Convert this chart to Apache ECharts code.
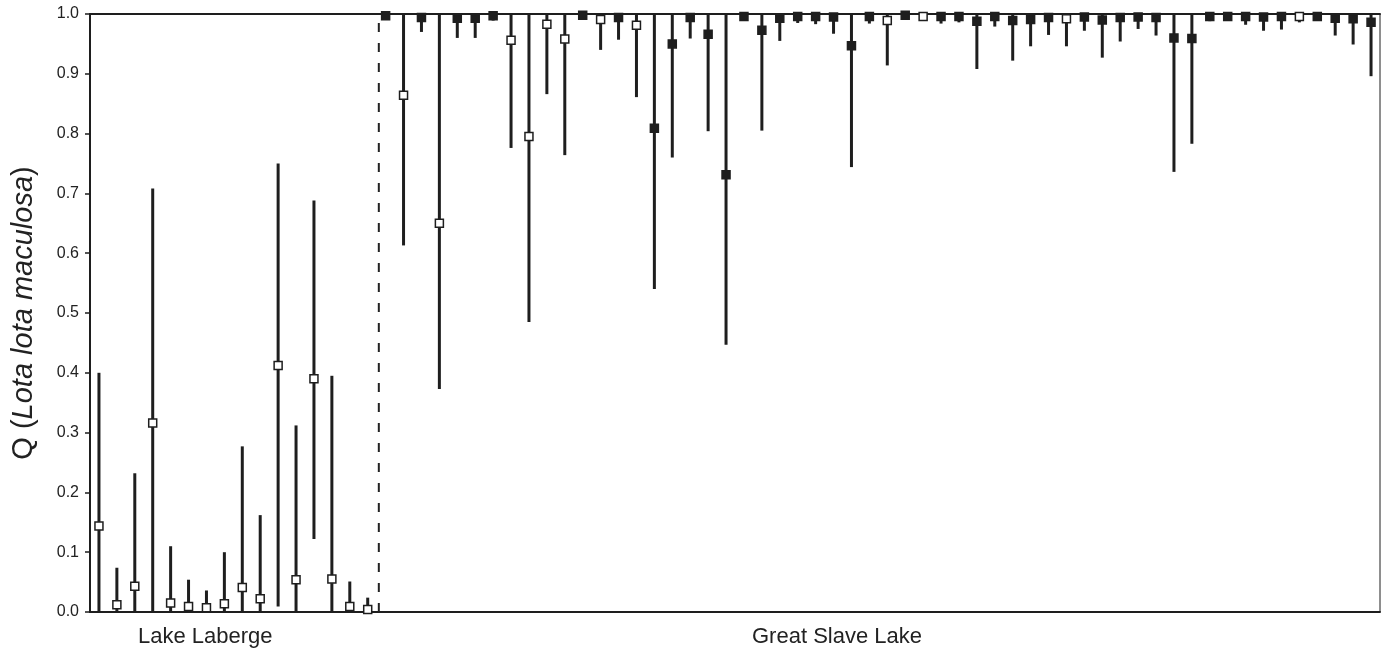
<!DOCTYPE html>
<html>
<head>
<meta charset="utf-8">
<title>Q (Lota lota maculosa)</title>
<script src="https://cdn.jsdelivr.net/npm/echarts@6/dist/echarts.min.js"></script>
<style>
  html, body { margin: 0; padding: 0; background: #fff; }
  #chart { width: 1385px; height: 654px; }
</style>
</head>
<body>
<div id="chart"></div>
<script>
// group labels under the x axis
const groups = ['Lake Laberge', 'Great Slave Lake']

// Lake Laberge individuals: mean Q and interval ends (all drawn open)
const labergeMean = [0.144, 0.012, 0.043, 0.316, 0.015, 0.009, 0.007, 0.014, 0.041, 0.022, 0.412, 0.054, 0.390, 0.055, 0.009, 0.004]
const labergeLow = [0, 0, 0, 0, 0, 0, 0, 0, 0, 0, 0.009, 0, 0.122, 0, 0, 0]
const labergeHigh = [0.400, 0.074, 0.232, 0.708, 0.110, 0.054, 0.036, 0.100, 0.277, 0.162, 0.750, 0.312, 0.688, 0.395, 0.051, 0.024]

// Great Slave Lake individuals
const slaveMean = [
  0.997, 0.864, 0.994, 0.650, 0.993, 0.993, 0.997, 0.956, 0.795, 0.983,
  0.958, 0.998, 0.991, 0.994, 0.981, 0.809, 0.950, 0.994, 0.966, 0.731,
  0.996, 0.973, 0.993, 0.996, 0.996, 0.995, 0.947, 0.996, 0.989, 0.998,
  0.996, 0.996, 0.996, 0.988, 0.996, 0.989, 0.991, 0.994, 0.992, 0.995,
  0.990, 0.994, 0.995, 0.994, 0.960, 0.959, 0.996, 0.996, 0.996, 0.995,
  0.996, 0.996, 0.996, 0.993, 0.992, 0.986,
]
const slaveLow = [
  0.990, 0.613, 0.970, 0.373, 0.960, 0.960, 0.989, 0.776, 0.485, 0.866,
  0.764, 0.990, 0.940, 0.957, 0.861, 0.540, 0.760, 0.959, 0.804, 0.447,
  0.990, 0.805, 0.955, 0.985, 0.983, 0.967, 0.744, 0.984, 0.914, 0.995,
  0.989, 0.984, 0.986, 0.908, 0.979, 0.922, 0.946, 0.965, 0.946, 0.972,
  0.927, 0.954, 0.975, 0.964, 0.736, 0.783, 0.988, 0.989, 0.982, 0.972,
  0.974, 0.986, 0.989, 0.964, 0.949, 0.896,
]
const slaveHigh = [
  1, 1, 1, 1, 1, 1, 1, 1, 1, 1,
  1, 1, 1, 1, 1, 1, 1, 1, 1, 1,
  1, 1, 1, 1, 1, 1, 1, 1, 1, 1,
  1, 1, 1, 1, 1, 1, 1, 1, 1, 1,
  1, 1, 1, 1, 1, 1, 1, 1, 1, 1,
  1, 1, 1, 1, 1, 1,
]
// 1 = open square, 0 = filled square
const slaveOpen = [
  0, 1, 0, 1, 0, 0, 0, 1, 1, 1,
  1, 0, 1, 0, 1, 0, 0, 0, 0, 0,
  0, 0, 0, 0, 0, 0, 0, 0, 1, 0,
  1, 0, 0, 0, 0, 0, 0, 0, 1, 0,
  0, 0, 0, 0, 0, 0, 0, 0, 0, 0,
  0, 1, 0, 0, 0, 0,
]

const ink = '#1e1e1e'
const font = 'Liberation Sans, Arial, sans-serif'

const chart = echarts.init(document.getElementById('chart'))

// build rows: [index, mean, low, high, open]
const rows = []
labergeMean.forEach((m, i) => rows.push([rows.length, m, labergeLow[i], labergeHigh[i], 1]))
slaveMean.forEach((m, i) => rows.push([rows.length, m, slaveLow[i], slaveHigh[i], slaveOpen[i]]))
const categories = rows.map(r => String(r[0] + 1))
const split = labergeMean.length + 0.12

function renderItem(params, api) {
  const top = api.coord([api.value(0), api.value(3)])
  const bot = api.coord([api.value(0), api.value(2)])
  const mid = api.coord([api.value(0), api.value(1)])
  const open = api.value(4) === 1
  return {
    type: 'group',
    children: [
      {
        type: 'line',
        shape: { x1: top[0], y1: top[1], x2: bot[0], y2: bot[1] },
        style: { stroke: ink, lineWidth: 3 },
      },
      {
        type: 'rect',
        shape: { x: mid[0] - 4, y: mid[1] - 4, width: 8, height: 8 },
        style: { fill: open ? '#fff' : ink, stroke: ink, lineWidth: 1.5 },
      },
    ],
  }
}

const option = {
  backgroundColor: '#fff',
  animation: false,
  grid: {
    left: 90,
    right: 5,
    top: 14,
    bottom: 42,
    show: true,
    borderColor: ink,
    borderWidth: 1,
  },
  xAxis: [
    {
      type: 'category',
      data: categories,
      boundaryGap: true,
      axisLine: { lineStyle: { color: ink, width: 2 } },
      axisTick: { show: false },
      axisLabel: { show: false },
      splitLine: { show: false },
    },
    {
      // hidden value axis for the lake divider and the top frame
      type: 'value',
      position: 'top',
      min: 0,
      max: rows.length,
      axisLine: { show: true, lineStyle: { color: ink, width: 2 } },
      axisTick: { show: false },
      axisLabel: { show: false },
      splitLine: { show: false },
    },
  ],
  yAxis: {
    type: 'value',
    min: 0,
    max: 1,
    interval: 0.1,
    name: '{n|Q (}{i|Lota lota maculosa}{n|)}',
    nameLocation: 'middle',
    nameRotate: 90,
    nameGap: 52,
    nameTextStyle: {
      rich: {
        n: { fontSize: 29, fontFamily: font, color: '#222' },
        i: { fontSize: 29, fontFamily: font, fontStyle: 'italic', color: '#222' },
      },
    },
    axisLine: { show: true, lineStyle: { color: ink, width: 2 } },
    axisTick: { show: true, length: 5, lineStyle: { color: ink, width: 1.5 } },
    axisLabel: {
      color: '#222',
      fontSize: 16,
      fontFamily: font,
      margin: 11,
      formatter: v => v.toFixed(1),
    },
    splitLine: { show: false },
  },
  graphic: [
    {
      type: 'text',
      left: 202 - 64,
      top: 626,
      style: { text: groups[0], fontSize: 22, fontFamily: font, fill: '#222' },
    },
    {
      type: 'text',
      left: 835 - 83,
      top: 626,
      style: { text: groups[1], fontSize: 22, fontFamily: font, fill: '#222' },
    },
  ],
  series: [
    {
      type: 'line',
      xAxisIndex: 1,
      data: [[split, 0], [split, 1]],
      symbol: 'none',
      silent: true,
      lineStyle: { color: '#222', width: 2, type: [9, 11] },
      z: 1,
    },
    {
      type: 'custom',
      xAxisIndex: 0,
      renderItem: renderItem,
      encode: { x: 0, y: 1 },
      data: rows,
      z: 2,
    },
  ],
}

chart.setOption(option)

window.addEventListener('resize', () => chart.resize())
</script>
</body>
</html>
